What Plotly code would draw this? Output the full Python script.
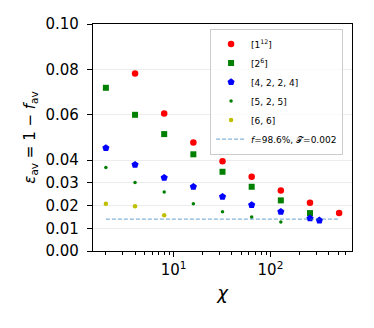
import plotly.graph_objects as go

# bond dimension chi
chi_1 = [4, 8, 16, 32, 64, 128, 256, 512]
err_1 = [0.0782, 0.0606, 0.0478, 0.0395, 0.0327, 0.0267, 0.0213, 0.0167]

chi_2 = [2, 4, 8, 16, 32, 64, 128, 256]
err_2 = [0.0719, 0.0600, 0.0515, 0.0426, 0.0349, 0.0283, 0.0223, 0.0167]

chi_4224 = [2, 4, 8, 16, 32, 64, 128, 256, 320]
err_4224 = [0.0454, 0.0380, 0.0323, 0.0283, 0.0239, 0.0203, 0.0173, 0.0144, 0.0135]

chi_525 = [2, 4, 8, 16, 32, 64, 128]
err_525 = [0.0368, 0.0302, 0.0260, 0.0208, 0.0173, 0.0150, 0.0128]

chi_66 = [2, 4, 8]
err_66 = [0.0208, 0.0197, 0.0157]

ref_chi = [2, 512]
ref_err = [0.014, 0.014]

fig = go.Figure()
fig.add_trace(go.Scatter(x=chi_1, y=err_1, mode='markers', name='[1<sup>12</sup>]',
                         marker=dict(color='#ff0000', size=6.5, symbol='circle')))
fig.add_trace(go.Scatter(x=chi_2, y=err_2, mode='markers', name='[2<sup>6</sup>]',
                         marker=dict(color='#008000', size=6, symbol='square')))
fig.add_trace(go.Scatter(x=chi_4224, y=err_4224, mode='markers', name='[4, 2, 2, 4]',
                         marker=dict(color='#0000ff', size=7.5, symbol='pentagon')))
fig.add_trace(go.Scatter(x=chi_525, y=err_525, mode='markers', name='[5, 2, 5]',
                         marker=dict(color='#008000', size=3.5, symbol='circle')))
fig.add_trace(go.Scatter(x=chi_66, y=err_66, mode='markers', name='[6, 6]',
                         marker=dict(color='#bfbf00', size=4.5, symbol='circle')))
fig.add_trace(go.Scatter(x=ref_chi, y=ref_err, mode='lines',
                         name='<i>f</i>=98.6%, 𝒯=0.002',
                         line=dict(color='rgba(31,119,180,0.55)', width=1.2, dash='4px,2px')))

minor_vals = [2, 3, 4, 5, 6, 7, 8, 9, 20, 30, 40, 50, 60, 70, 80, 90, 200, 300, 400, 500, 600]

# page body has an 8px margin, so the plot box is offset by that amount
fig.update_layout(
    width=374, height=328,
    margin=dict(l=85, r=30, t=16, b=85),
    paper_bgcolor='white', plot_bgcolor='white',
    font=dict(family='DejaVu Sans', size=15, color='black'),
    showlegend=True,
    legend=dict(x=0.452, y=0.98, xanchor='left', yanchor='top',
                bgcolor='rgba(255,255,255,0.8)', bordercolor='#cccccc', borderwidth=1,
                font=dict(size=9), itemwidth=30, tracegroupgap=0),
    xaxis=dict(type='log', range=[0.168, 2.842], automargin=False,
               tickvals=[10, 100], ticktext=['10<sup>1</sup>', '10<sup>2</sup>'],
               ticks='outside', ticklen=5, tickcolor='black',
               minor=dict(tickvals=minor_vals, ticks='outside', ticklen=3, tickcolor='black'),
               showgrid=False, zeroline=False,
               showline=True, linecolor='black', linewidth=1.2, mirror=True,
               title=dict(text='<i>χ</i>', standoff=8)),
    yaxis=dict(range=[0, 0.10], automargin=False,
               tickvals=[0, 0.01, 0.02, 0.03, 0.04, 0.06, 0.08, 0.10],
               ticktext=['0.00', '0.01', '0.02', '0.03', '0.04', '0.06', '0.08', '0.10'],
               ticks='outside', ticklen=5, tickcolor='black', ticklabelstandoff=5,
               showgrid=True, gridcolor='#ececec', gridwidth=1, zeroline=False,
               showline=True, linecolor='black', linewidth=1.2, mirror=True,
               title=dict(text='<i>ε</i><sub>av</sub> = 1 − <i>f</i><sub>av</sub>',
                          font=dict(size=15), standoff=6)),
)

fig.write_html("out.html")
